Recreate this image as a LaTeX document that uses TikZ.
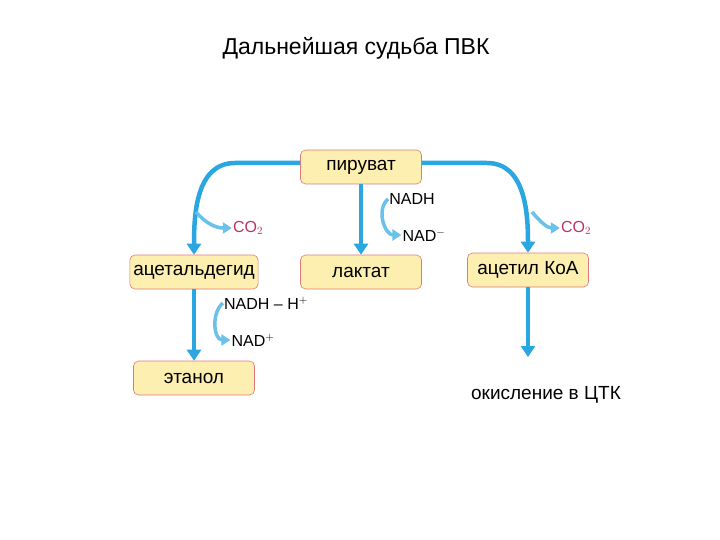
\documentclass[tikz,border=0pt]{standalone}
\usepackage{fontspec}
\setmainfont{Liberation Sans}
\usetikzlibrary{arrows.meta}
\definecolor{boxfill}{HTML}{FCEFB0}
\definecolor{boxline}{HTML}{E07A7A}
\definecolor{arr}{HTML}{2AA6E0}
\definecolor{co}{HTML}{C0306A}
\tikzset{
  box/.style={draw=boxline,fill=boxfill,rounded corners=5pt,minimum width=121pt,minimum height=34pt,font=\fontsize{19}{22}\selectfont,line width=0.6pt},
  flow/.style={draw=arr,line width=4.5pt,-{Triangle[length=11pt,width=14pt]}},
  side/.style={draw=arr!70,line width=3.5pt,-{Triangle[length=9pt,width=11pt]}},
  lab/.style={font=\fontsize{16}{18}\selectfont,inner sep=1pt}
}
\begin{document}
\begin{tikzpicture}[x=1pt,y=-1pt]
\useasboundingbox[fill=white] (0,0) rectangle (720,540);
\node[font=\fontsize{23}{26}\selectfont] (t) at (356,48) {Дальнейшая судьба ПВК};
\node[box] (pyr) at (361,167) {пируват};
\node[box] (ald) at (194,272) {ацетальдегид};
\node[box] (lac) at (361,272) {лактат};
\node[box] (acoa) at (528,270) {ацетил КоА};
\node[box] (eth) at (194,378) {этанол};
\node[font=\fontsize{19}{22}\selectfont] (ox) at (546,395) {окисление в ЦТК};
\node[lab,text=co] (co1) at (248,228) {CO$_2$};
\node[lab,text=co] (co2) at (576,228) {CO$_2$};
\node[lab] (nadh) at (412,199) {NADH};
\node[lab] (nadm) at (424,235) {NAD$^{-}$};
\node[lab] (nadhh) at (266,303) {NADH – H$^{+}$};
\node[lab] (nadp) at (253,340) {NAD$^{+}$};
\coordinate (ox0) at (528,357);
% main flows
\draw[flow] (pyr.west |- 0,163) -- (235,163) to[out=180,in=90] (ald.north);
\draw[flow] (pyr.east |- 0,163) -- (487,163) to[out=0,in=90] (acoa.north);
\draw[flow] (pyr.south) -- (lac.north);
\draw[flow] (ald.south) -- (eth.north);
\draw[flow] (acoa.south) -- (ox0);
% side branches
\draw[side] (196,212) to[out=-50,in=180] (co1.west);
\draw[side] (532,212) to[out=-50,in=180] (co2.west);
\draw[side] (nadh.west) to[out=220,in=180,looseness=1.1] (nadm.west);
\draw[side] (nadhh.west) to[out=220,in=180,looseness=1.1] (nadp.west);
\end{tikzpicture}
\end{document}
